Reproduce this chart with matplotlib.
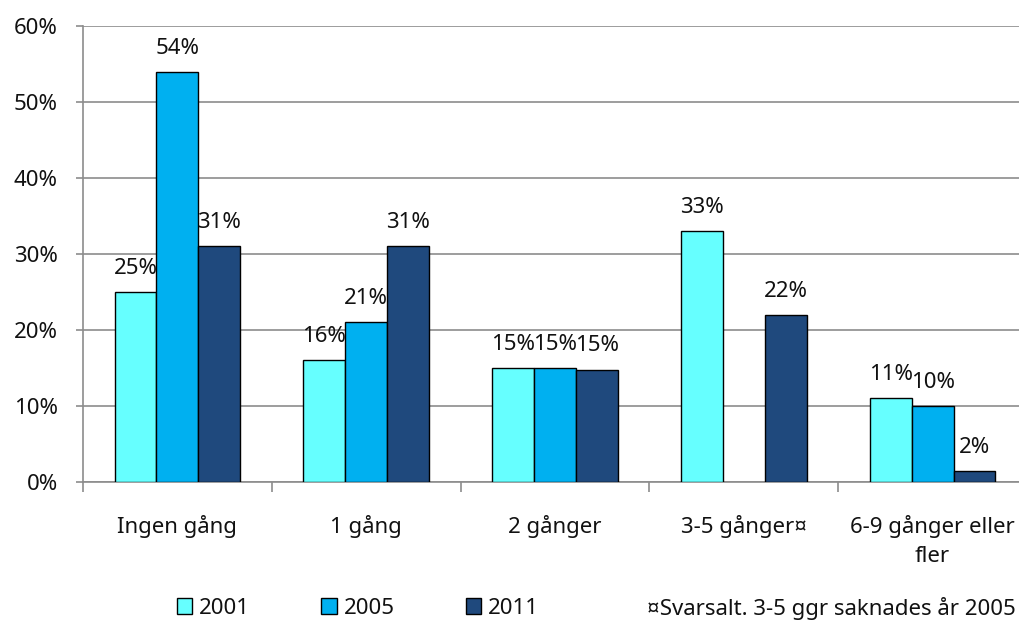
import numpy as np
import matplotlib
matplotlib.use("Agg")
import matplotlib.pyplot as plt
from matplotlib.patches import Patch

categories = ["Ingen gång", "1 gång", "2 gånger", "3-5 gånger¤", "6-9 gånger eller\nfler"]
series_names = ["2001", "2005", "2011"]
v2001 = [25, 16, 15, 33, 11]
v2005 = [54, 21, 15, np.nan, 10]
v2011 = [31, 31, 14.8, 22, 1.4]
lab2001 = ["25%", "16%", "15%", "33%", "11%"]
lab2005 = ["54%", "21%", "15%", "", "10%"]
lab2011 = ["31%", "31%", "15%", "22%", "2%"]
yticks = [0, 10, 20, 30, 40, 50, 60]
ytick_labels = ["0%", "10%", "20%", "30%", "40%", "50%", "60%"]
footnote = "¤Svarsalt. 3-5 ggr saknades år 2005"

colors = ["#66FFFF", "#00B0F0", "#1F497D"]
FONT = ["Noto Sans", "DejaVu Sans"]
plt.rcParams["font.family"] = FONT
FS = 16
TXT = "#111111"

W, H = 1019, 622
fig = plt.figure(figsize=(W / 100, H / 100), dpi=100)
ax = fig.add_axes([83 / W, (H - 482) / H, 944 / W, 456 / H])

x = np.arange(len(categories))
bw = 0.222
series = [v2001, v2005, v2011]
labels = [lab2001, lab2005, lab2011]
for i, (vals, labs) in enumerate(zip(series, labels)):
    pos = x + (i - 1) * bw
    ax.bar(pos, vals, width=bw, color=colors[i], edgecolor="black", linewidth=1.0, zorder=3)
    for p, v, l in zip(pos, vals, labs):
        if np.isnan(v) or not l:
            continue
        ax.annotate(l, (p, v), xytext=(0, 13), textcoords="offset points",
                    ha="center", va="baseline", fontsize=FS, color=TXT)

ax.set_xlim(-0.5, len(categories) - 0.5)
ax.set_ylim(0, 60)
ax.set_yticks(yticks)
ax.set_yticklabels(ytick_labels, fontsize=FS, color=TXT)
ax.yaxis.grid(True, color="#8c8c8c", linewidth=1.2, zorder=0)
ax.set_axisbelow(True)

ax.set_xticks(np.arange(len(categories) + 1) - 0.5)
ax.set_xticklabels([])
ax.set_xticks(x, minor=True)
ax.set_xticklabels(categories, minor=True, fontsize=FS, linespacing=1.45, color=TXT)
ax.tick_params(axis="x", which="major", length=7, width=1.2, color="#8c8c8c")
ax.tick_params(axis="x", which="minor", length=0, pad=24)
ax.tick_params(axis="y", length=5, width=1.2, color="#8c8c8c", pad=13)

for s in ["top", "right"]:
    ax.spines[s].set_visible(False)
for s in ["left", "bottom"]:
    ax.spines[s].set_color("#8c8c8c")
    ax.spines[s].set_linewidth(1.2)

handles = [Patch(facecolor=c, edgecolor="black", linewidth=1.0) for c in colors]
fig.legend(handles, series_names, loc="center left", bbox_to_anchor=(168 / W, 1 - 608 / H),
           ncol=3, frameon=False, fontsize=FS, handlelength=0.7, handleheight=0.7,
           handletextpad=0.3, columnspacing=3.2, borderaxespad=0, labelcolor=TXT)
fig.text(647 / W, 1 - 608 / H, footnote, ha="left", va="center", fontsize=FS, color=TXT)

fig.savefig("out.png", dpi=100)
